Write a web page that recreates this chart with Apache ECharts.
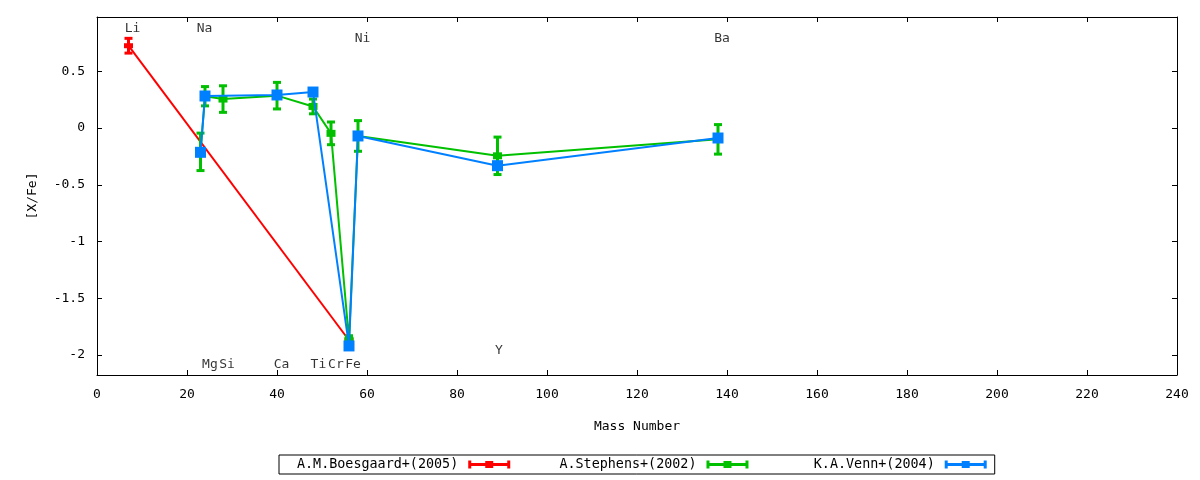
<!DOCTYPE html>
<html>
<head>
<meta charset="utf-8">
<script src="https://cdn.jsdelivr.net/npm/echarts@6/dist/echarts.min.js"></script>
<style>
    html, body {margin: 0; padding: 0; background: #fff;}
    #chart {width: 1200px; height: 480px;}
</style>
</head>
<body>
<div id="chart"></div>
<script>
// A.M.Boesgaard+(2005)
const boesgaardX = [7, 56]
const boesgaardY = [0.725, -1.87]
const boesgaardErr = [0.065, 0.03]

// A.Stephens+(2002)
const stephensX = [23, 24, 28, 40, 48, 52, 56, 58, 89, 138]
const stephensY = [-0.21, 0.28, 0.255, 0.285, 0.19, -0.047, -1.87, -0.07, -0.245, -0.1]
const stephensErr = [0.165, 0.085, 0.117, 0.117, 0.065, 0.1, 0.04, 0.135, 0.165, 0.13]

// K.A.Venn+(2004)
const vennX = [23, 24, 40, 48, 56, 58, 89, 138]
const vennY = [-0.214, 0.282, 0.291, 0.317, -1.92, -0.07, -0.332, -0.088]
const vennErr = [0.03, 0.03, 0.03, 0.03, 0.03, 0.03, 0.03, 0.03]

// element names and where they sit
const elemNames = ['Li', 'Na', 'Mg', 'Si', 'Ca', 'Ti', 'Cr', 'Fe', 'Ni', 'Y', 'Ba']
const elemX = [7.9, 23.9, 25.1, 28.9, 41, 49.2, 53.1, 56.9, 59, 89.3, 138.9]
const elemY = [0.875, 0.875, -2.085, -2.085, -2.085, -2.085, -2.085, -2.085, 0.785, -1.96, 0.785]

const xTicks = [0, 20, 40, 60, 80, 100, 120, 140, 160, 180, 200, 220, 240]
const yTicks = [-2, -1.5, -1, -0.5, 0, 0.5]

const FONT = 'DejaVu Sans Mono'
const names = ['A.M.Boesgaard+(2005)', 'A.Stephens+(2002)', 'K.A.Venn+(2004)']
const colors = ['#ff0000', '#00c000', '#0080ff']

function zip(xs, ys, es) {
    return xs.map((x, i) => es ? [x, ys[i], es[i]] : [x, ys[i]])
}

// error bar drawn through the axis scales
function errorBar(color) {
    return function (params, api) {
        const x = api.value(0)
        const y = api.value(1)
        const e = api.value(2)
        const top = api.coord([x, y + e])
        const bot = api.coord([x, y - e])
        const half = 4
        const style = {stroke: color, lineWidth: 3}
        return {
            type: 'group',
            children: [
                {type: 'line', shape: {x1: top[0], y1: top[1], x2: bot[0], y2: bot[1]}, style: style},
                {type: 'line', shape: {x1: top[0] - half, y1: top[1], x2: top[0] + half, y2: top[1]}, style: style},
                {type: 'line', shape: {x1: bot[0] - half, y1: bot[1], x2: bot[0] + half, y2: bot[1]}, style: style}
            ]
        }
    }
}

// horizontal error bar as legend sample
const legendIcon = 'path://M0,2.5H42V5.5H0Z M0,0H3V8H0Z M39,0H42V8H39Z M17,0.5H25V7.5H17Z'
// key text is right-justified in equal columns (monospace font)
const keyLen = Math.max(...names.map(n => n.length))

function axisCommon() {
    return {
        type: 'value',
        axisLine: {show: true, onZero: false, lineStyle: {color: '#000', width: 1}},
        axisTick: {show: true, inside: true, length: 5, lineStyle: {color: '#000'}},
        splitLine: {show: false}
    }
}

let chart = echarts.init(document.getElementById('chart'))
window.addEventListener('resize', () => {
    chart.resize()
})

const option = {
    animation: false,
    grid: {left: 97, right: 23, top: 17, bottom: 105},
    legend: {
        data: names.map(n => ({name: n, icon: legendIcon})),
        formatter: n => n.padStart(keyLen, ' '),
        left: 279,
        top: 455,
        align: 'right',
        itemWidth: 42,
        itemHeight: 8,
        itemGap: 25,
        padding: [3, 8, 3, 18],
        borderColor: '#000',
        borderWidth: 1,
        borderRadius: 0,
        textStyle: {
            fontFamily: FONT, fontSize: 13.4, color: '#000',
            padding: [0, 5, 0, 0]
        }
    },
    xAxis: [
        Object.assign(axisCommon(), {
            min: 0,
            max: 240,
            interval: 20,
            name: 'Mass Number',
            nameLocation: 'middle',
            nameGap: 45,
            nameTextStyle: {fontFamily: FONT, fontSize: 13, color: '#000'},
            axisLabel: {fontFamily: FONT, fontSize: 13, color: '#000', margin: 13}
        }),
        Object.assign(axisCommon(), {
            position: 'top',
            min: 0,
            max: 240,
            interval: 20,
            axisLabel: {show: false}
        })
    ],
    yAxis: [
        Object.assign(axisCommon(), {
            min: -2.176,
            max: 0.978,
            name: '[X/Fe]',
            nameLocation: 'middle',
            nameGap: 58,
            nameRotate: 90,
            nameTextStyle: {fontFamily: FONT, fontSize: 13, color: '#000'},
            axisTick: {show: true, inside: true, length: 5, customValues: yTicks, lineStyle: {color: '#000'}},
            axisLabel: {fontFamily: FONT, fontSize: 13, color: '#000', margin: 12, customValues: yTicks}
        }),
        Object.assign(axisCommon(), {
            position: 'right',
            min: -2.176,
            max: 0.978,
            axisTick: {show: true, inside: true, length: 5, customValues: yTicks, lineStyle: {color: '#000'}},
            axisLabel: {show: false, customValues: yTicks}
        })
    ],
    series: [
        {
            name: names[0],
            type: 'line',
            data: zip(boesgaardX, boesgaardY),
            z: 2,
            color: colors[0],
            lineStyle: {color: colors[0], width: 2},
            itemStyle: {color: colors[0]},
            symbol: 'rect',
            symbolSize: [9, 5]
        },
        {
            name: 'err0',
            type: 'custom',
            data: zip(boesgaardX, boesgaardY, boesgaardErr),
            z: 3,
            renderItem: errorBar(colors[0]),
            silent: true
        },
        {
            name: names[1],
            type: 'line',
            data: zip(stephensX, stephensY),
            z: 4,
            color: colors[1],
            lineStyle: {color: colors[1], width: 2},
            itemStyle: {color: colors[1]},
            symbol: 'rect',
            symbolSize: [9, 7]
        },
        {
            name: 'err1',
            type: 'custom',
            data: zip(stephensX, stephensY, stephensErr),
            z: 5,
            renderItem: errorBar(colors[1]),
            silent: true
        },
        {
            name: names[2],
            type: 'line',
            data: zip(vennX, vennY),
            z: 6,
            color: colors[2],
            lineStyle: {color: colors[2], width: 2},
            itemStyle: {color: colors[2]},
            symbol: 'rect',
            symbolSize: 11
        },
        {
            name: 'err2',
            type: 'custom',
            data: zip(vennX, vennY, vennErr),
            z: 7,
            renderItem: errorBar(colors[2]),
            silent: true
        },
        {
            name: 'elements',
            type: 'scatter',
            data: elemNames.map((n, i) => ({name: n, value: [elemX[i], elemY[i]]})),
            symbolSize: 0,
            z: 10,
            silent: true,
            label: {
                show: true,
                position: 'inside',
                formatter: p => p.name,
                fontFamily: FONT,
                fontSize: 13,
                color: '#000'
            }
        }
    ]
}
chart.setOption(option)
</script>
</body>
</html>
